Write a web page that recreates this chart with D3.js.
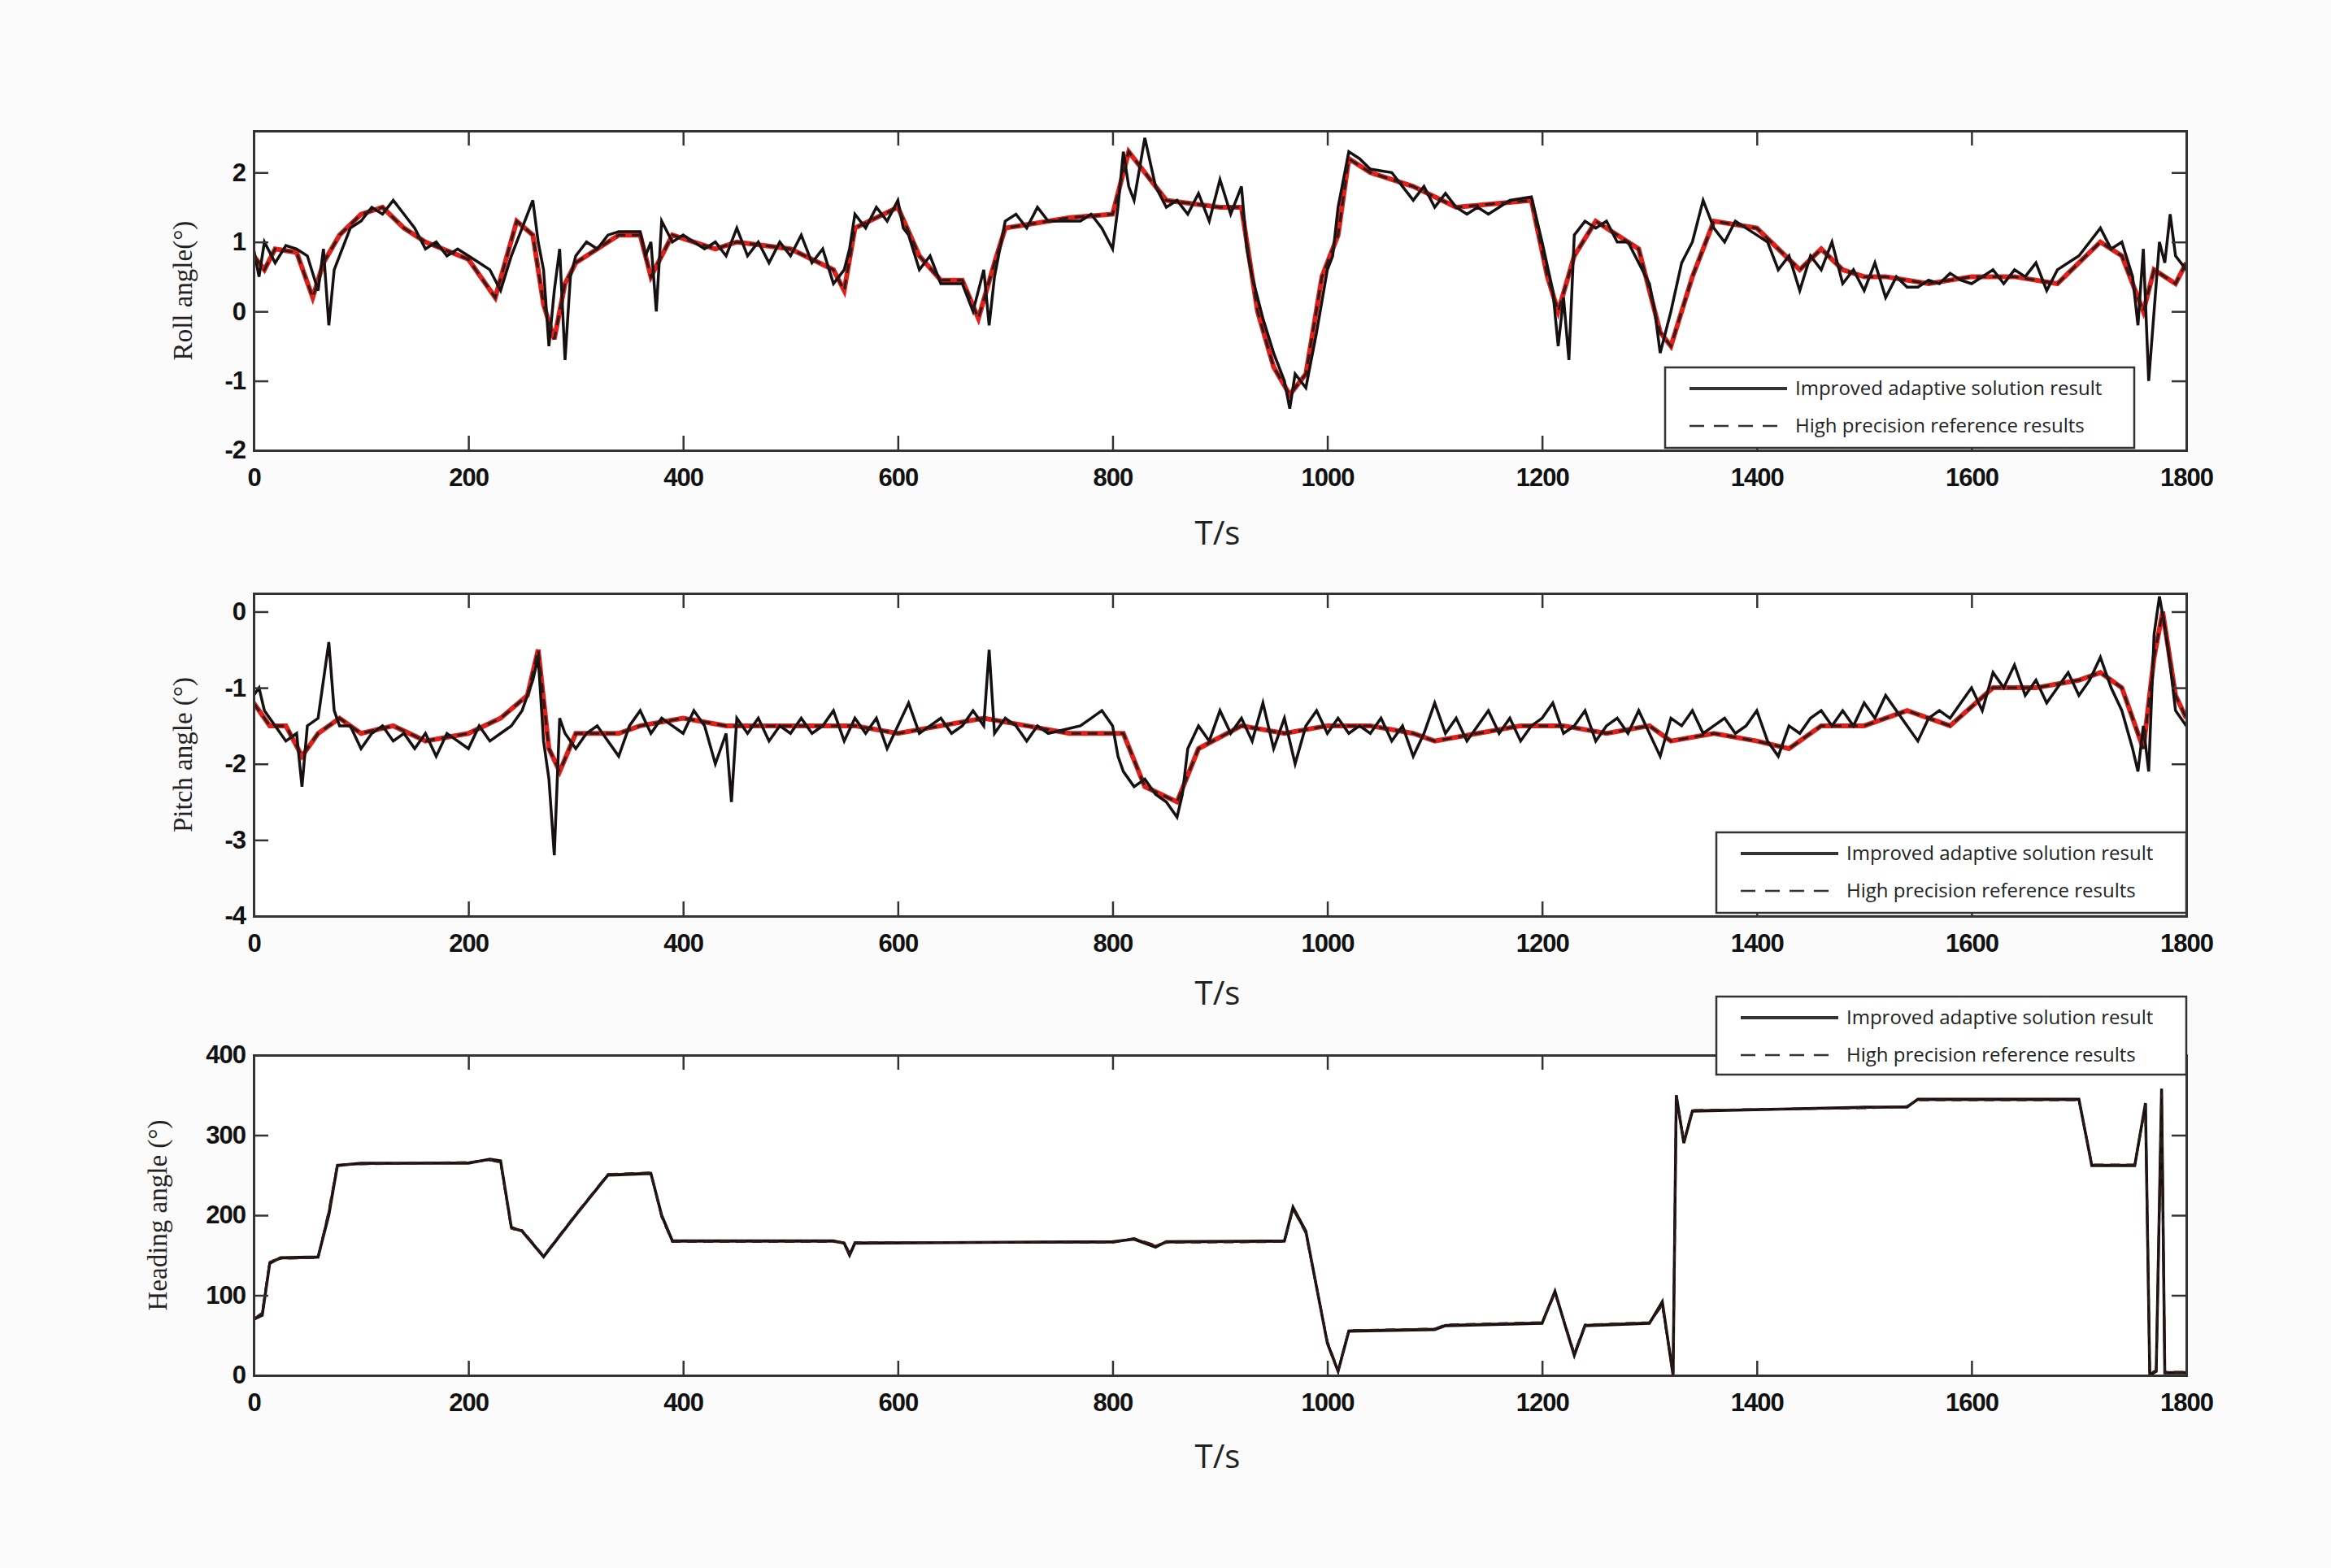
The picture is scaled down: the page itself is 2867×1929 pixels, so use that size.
<!DOCTYPE html>
<html>
<head>
<meta charset="utf-8">
<script src="https://cdn.jsdelivr.net/npm/d3@7"></script>
<style>
  body { margin: 0; background: #fbfbfb; }
  .tick text { font-family: "Liberation Sans Narrow", "Liberation Sans", sans-serif; font-weight: bold; font-size: 31px; fill: #111; letter-spacing: -1px; }
  .ylab { font-family: "Liberation Serif", serif; font-size: 33px; fill: #222; }
  .xlab { font-family: "Open Sans", "DejaVu Sans", sans-serif; font-size: 40px; fill: #222; }
  .leg { font-family: "Liberation Sans Narrow", "Open Sans", sans-serif; font-size: 24px; fill: #222; }
</style>
</head>
<body>
<svg id="chart" width="2867" height="1929"></svg>
<script>
// ---- data ----
var xTicks = [0, 200, 400, 600, 800, 1000, 1200, 1400, 1600, 1800];
var rollTicks = [-2, -1, 0, 1, 2];
var pitchTicks = [-4, -3, -2, -1, 0];
var headingTicks = [0, 100, 200, 300, 400];
var legendLabels = ["Improved adaptive solution result", "High precision reference results"];

var rollSolved = [[0,0.9],[5,0.5],[10,1.0],[20,0.7],[30,0.95],[40,0.9],[50,0.8],[60,0.3],[65,0.9],[70,-0.2],[75,0.6],[85,1.0],[90,1.2],[100,1.3],[110,1.5],[120,1.4],[130,1.6],[140,1.4],[150,1.2],[160,0.9],[170,1.0],[180,0.8],[190,0.9],[200,0.8],[210,0.7],[220,0.6],[230,0.3],[240,0.8],[250,1.2],[255,1.4],[260,1.6],[265,1.0],[270,0.6],[275,-0.5],[280,0.3],[285,0.9],[290,-0.7],[295,0.5],[300,0.8],[310,1.0],[320,0.9],[330,1.1],[340,1.15],[360,1.15],[365,0.8],[370,1.0],[375,0.0],[380,1.3],[390,1.0],[400,1.1],[410,1.0],[420,0.9],[430,1.0],[440,0.8],[450,1.2],[460,0.8],[470,1.0],[480,0.7],[490,1.0],[500,0.8],[510,1.1],[520,0.7],[530,0.9],[540,0.4],[550,0.6],[555,0.9],[560,1.4],[570,1.2],[580,1.5],[590,1.3],[600,1.6],[605,1.2],[610,1.1],[620,0.6],[630,0.8],[640,0.4],[660,0.4],[670,0.0],[680,0.6],[685,-0.2],[690,0.5],[700,1.3],[710,1.4],[720,1.2],[730,1.5],[740,1.3],[750,1.3],[770,1.3],[780,1.4],[790,1.2],[800,0.9],[805,1.5],[810,2.3],[815,1.8],[820,1.6],[830,2.5],[840,1.8],[850,1.5],[860,1.6],[870,1.4],[880,1.7],[890,1.3],[900,1.9],[910,1.4],[920,1.8],[925,0.9],[930,0.5],[940,-0.1],[950,-0.6],[960,-1.0],[965,-1.4],[970,-0.9],[980,-1.1],[990,-0.3],[1000,0.6],[1005,0.8],[1010,1.5],[1020,2.3],[1030,2.2],[1040,2.05],[1060,2.0],[1070,1.8],[1080,1.6],[1090,1.8],[1100,1.5],[1110,1.7],[1120,1.5],[1130,1.4],[1140,1.5],[1150,1.4],[1160,1.5],[1170,1.6],[1190,1.65],[1200,1.0],[1210,0.3],[1215,-0.5],[1220,0.2],[1225,-0.7],[1230,1.1],[1240,1.3],[1250,1.2],[1260,1.3],[1270,1.0],[1280,1.0],[1290,0.7],[1300,0.4],[1305,0.0],[1310,-0.6],[1320,0.0],[1330,0.7],[1340,1.0],[1350,1.6],[1360,1.2],[1370,1.0],[1380,1.3],[1390,1.2],[1400,1.1],[1410,1.0],[1420,0.6],[1430,0.8],[1440,0.3],[1450,0.8],[1460,0.6],[1470,1.0],[1480,0.4],[1490,0.6],[1500,0.3],[1510,0.7],[1520,0.2],[1530,0.5],[1540,0.35],[1550,0.35],[1560,0.45],[1570,0.4],[1580,0.55],[1590,0.45],[1600,0.4],[1610,0.5],[1620,0.6],[1630,0.4],[1640,0.6],[1650,0.5],[1660,0.7],[1670,0.3],[1680,0.6],[1690,0.7],[1700,0.8],[1710,1.0],[1720,1.2],[1730,0.9],[1740,1.0],[1750,0.5],[1755,-0.2],[1760,0.9],[1765,-1.0],[1770,0.0],[1775,1.0],[1780,0.7],[1785,1.4],[1790,0.8],[1800,0.6]];
var rollRef = [[0,0.8],[10,0.6],[20,0.9],[40,0.85],[55,0.2],[65,0.7],[80,1.1],[100,1.4],[120,1.5],[140,1.2],[160,1.0],[200,0.75],[225,0.2],[245,1.3],[260,1.1],[270,0.1],[280,-0.4],[290,0.4],[300,0.7],[340,1.1],[360,1.1],[370,0.5],[390,1.1],[430,0.9],[450,1.0],[500,0.9],[540,0.6],[550,0.3],[560,1.2],[600,1.5],[620,0.8],[640,0.45],[660,0.45],[675,-0.1],[690,0.7],[700,1.2],[760,1.35],[800,1.4],[815,2.3],[830,2.0],[850,1.6],[900,1.5],[920,1.5],[935,0.0],[950,-0.8],[965,-1.2],[980,-0.9],[995,0.5],[1010,1.1],[1020,2.2],[1040,2.0],[1080,1.8],[1120,1.5],[1190,1.6],[1205,0.5],[1215,0.0],[1230,0.8],[1250,1.3],[1290,0.9],[1310,-0.3],[1320,-0.5],[1340,0.5],[1360,1.3],[1400,1.2],[1420,0.9],[1440,0.6],[1460,0.9],[1480,0.6],[1500,0.5],[1520,0.5],[1560,0.4],[1600,0.5],[1640,0.5],[1680,0.4],[1720,1.0],[1740,0.8],[1760,0.0],[1770,0.6],[1790,0.4],[1800,0.7]];

var pitchSolved = [[0,-1.1],[5,-1.0],[10,-1.3],[20,-1.5],[30,-1.7],[40,-1.6],[45,-2.3],[50,-1.5],[60,-1.4],[70,-0.4],[75,-1.3],[80,-1.5],[90,-1.5],[100,-1.8],[110,-1.6],[120,-1.5],[130,-1.7],[140,-1.6],[150,-1.8],[160,-1.6],[170,-1.9],[180,-1.6],[190,-1.7],[200,-1.8],[210,-1.5],[220,-1.7],[230,-1.6],[240,-1.5],[250,-1.3],[260,-0.9],[265,-0.6],[270,-1.7],[275,-2.2],[280,-3.2],[285,-1.4],[290,-1.6],[300,-1.8],[310,-1.6],[320,-1.5],[330,-1.7],[340,-1.9],[350,-1.5],[360,-1.3],[370,-1.6],[380,-1.4],[390,-1.5],[400,-1.6],[410,-1.3],[420,-1.5],[430,-2.0],[440,-1.6],[445,-2.5],[450,-1.4],[460,-1.6],[470,-1.4],[480,-1.7],[490,-1.5],[500,-1.6],[510,-1.4],[520,-1.6],[530,-1.5],[540,-1.3],[550,-1.7],[560,-1.4],[570,-1.6],[580,-1.4],[590,-1.8],[600,-1.5],[610,-1.2],[620,-1.6],[630,-1.5],[640,-1.4],[650,-1.6],[660,-1.5],[670,-1.3],[680,-1.5],[685,-0.5],[690,-1.6],[700,-1.4],[710,-1.5],[720,-1.7],[730,-1.5],[740,-1.6],[770,-1.5],[780,-1.4],[790,-1.3],[800,-1.5],[805,-1.9],[810,-2.1],[820,-2.3],[830,-2.2],[840,-2.4],[850,-2.5],[860,-2.7],[865,-2.4],[870,-1.8],[880,-1.5],[890,-1.7],[900,-1.3],[910,-1.6],[920,-1.4],[930,-1.7],[940,-1.2],[950,-1.8],[960,-1.4],[970,-2.0],[980,-1.5],[990,-1.3],[1000,-1.6],[1010,-1.4],[1020,-1.6],[1030,-1.5],[1040,-1.6],[1050,-1.4],[1060,-1.7],[1070,-1.5],[1080,-1.9],[1090,-1.6],[1100,-1.2],[1110,-1.6],[1120,-1.4],[1130,-1.7],[1140,-1.5],[1150,-1.3],[1160,-1.6],[1170,-1.4],[1180,-1.7],[1190,-1.5],[1200,-1.4],[1210,-1.2],[1220,-1.6],[1230,-1.5],[1240,-1.3],[1250,-1.7],[1260,-1.5],[1270,-1.4],[1280,-1.6],[1290,-1.3],[1300,-1.6],[1310,-1.9],[1320,-1.4],[1330,-1.5],[1340,-1.3],[1350,-1.6],[1360,-1.5],[1370,-1.4],[1380,-1.6],[1390,-1.5],[1400,-1.3],[1410,-1.7],[1420,-1.9],[1430,-1.5],[1440,-1.6],[1450,-1.4],[1460,-1.3],[1470,-1.5],[1480,-1.3],[1490,-1.5],[1500,-1.2],[1510,-1.4],[1520,-1.1],[1530,-1.3],[1540,-1.5],[1550,-1.7],[1560,-1.4],[1570,-1.3],[1580,-1.4],[1590,-1.2],[1600,-1.0],[1610,-1.3],[1620,-0.8],[1630,-1.0],[1640,-0.7],[1650,-1.1],[1660,-0.9],[1670,-1.2],[1680,-1.0],[1690,-0.8],[1700,-1.1],[1710,-0.9],[1720,-0.6],[1730,-1.0],[1740,-1.3],[1750,-1.8],[1755,-2.1],[1760,-1.5],[1765,-2.1],[1770,-0.3],[1775,0.2],[1780,-0.2],[1785,-0.7],[1790,-1.3],[1800,-1.5]];
var pitchRef = [[0,-1.2],[15,-1.5],[30,-1.5],[45,-1.9],[60,-1.6],[80,-1.4],[100,-1.6],[130,-1.5],[160,-1.7],[200,-1.6],[230,-1.4],[255,-1.1],[265,-0.5],[275,-1.8],[285,-2.1],[300,-1.6],[340,-1.6],[360,-1.5],[400,-1.4],[440,-1.5],[480,-1.5],[520,-1.5],[560,-1.5],[600,-1.6],[640,-1.5],[680,-1.4],[720,-1.5],[760,-1.6],[790,-1.6],[810,-1.6],[830,-2.3],[860,-2.5],[880,-1.8],[920,-1.5],[960,-1.6],[1000,-1.5],[1040,-1.5],[1080,-1.6],[1100,-1.7],[1140,-1.6],[1180,-1.5],[1220,-1.5],[1260,-1.6],[1300,-1.5],[1320,-1.7],[1360,-1.6],[1400,-1.7],[1430,-1.8],[1460,-1.5],[1500,-1.5],[1540,-1.3],[1580,-1.5],[1620,-1.0],[1660,-1.0],[1700,-0.9],[1720,-0.8],[1740,-1.0],[1760,-1.8],[1770,-0.6],[1778,0.0],[1790,-1.1],[1800,-1.4]];

var headingSolved = [[0,70],[8,75],[15,140],[25,147],[60,148],[70,200],[78,262],[100,265],[200,265],[220,270],[230,268],[240,185],[250,180],[270,148],[300,200],[330,250],[370,252],[380,200],[390,168],[540,168],[550,165],[555,150],[560,165],[800,167],[820,170],[840,160],[850,167],[960,168],[968,210],[980,180],[1000,40],[1010,5],[1020,55],[1100,57],[1110,62],[1200,65],[1212,105],[1222,60],[1230,25],[1240,62],[1300,65],[1312,92],[1322,0],[1325,350],[1332,290],[1340,330],[1500,335],[1540,335],[1550,345],[1700,345],[1712,262],[1752,262],[1762,340],[1766,0],[1772,5],[1777,358],[1780,3],[1800,3]];
var headingRef = [[0,70],[8,78],[15,142],[25,146],[60,147],[70,205],[78,263],[100,264],[200,266],[220,269],[230,266],[240,183],[250,181],[270,149],[300,201],[330,251],[370,253],[380,198],[390,167],[540,167],[550,166],[555,152],[560,166],[800,166],[820,171],[840,162],[850,166],[960,167],[968,208],[980,178],[1000,42],[1010,6],[1020,56],[1100,58],[1110,63],[1200,66],[1212,103],[1222,61],[1230,27],[1240,63],[1300,66],[1312,88],[1322,2],[1325,348],[1332,292],[1340,331],[1500,334],[1540,336],[1550,344],[1700,344],[1712,263],[1752,263],[1762,338],[1766,2],[1772,6],[1777,352],[1780,4],[1800,4]];

// ---- layout ----
var svg = d3.select("#chart");
var left = 312, right = 2689;
var x = d3.scaleLinear().domain([0, 1800]).range([left, right]);
var fmt = function(d) { return String(d); };

var panels = [
  { top: 161, bottom: 554, domain: [-2, 2.6], ticks: rollTicks, solved: rollSolved, ref: rollRef,
    label: "Roll angle(°)", labelX: 236, tLabelY: 670, legend: [2048, 452, 2625, 551], red: true },
  { top: 730, bottom: 1127, domain: [-4, 0.24], ticks: pitchTicks, solved: pitchSolved, ref: pitchRef,
    label: "Pitch angle (°)", labelX: 236, tLabelY: 1236, legend: [2111, 1024, 2689, 1123], red: true },
  { top: 1298, bottom: 1692, domain: [0, 400], ticks: headingTicks, solved: headingSolved, ref: headingRef,
    label: "Heading angle (°)", labelX: 205, tLabelY: 1806, legend: [2111, 1226, 2689, 1322], red: false }
];

panels.forEach(function(p) {
  var y = d3.scaleLinear().domain(p.domain).range([p.bottom, p.top]);
  var g = svg.append("g");
  var clipId = "clip" + p.top;
  svg.append("clipPath").attr("id", clipId).append("rect")
    .attr("x", left).attr("y", p.top).attr("width", right - left).attr("height", p.bottom - p.top);

  g.append("rect").attr("x", left).attr("y", p.top)
    .attr("width", right - left).attr("height", p.bottom - p.top).attr("fill", "#fff");

  var line = d3.line().x(function(d) { return x(d[0]); }).y(function(d) { return y(d[1]); });
  var plot = g.append("g").attr("clip-path", "url(#" + clipId + ")");

  plot.append("path").datum(p.ref).attr("d", line).attr("fill", "none")
    .attr("stroke", p.red ? "#e0201a" : "#8a2a20").attr("stroke-width", p.red ? 6 : 2.5);
  plot.append("path").datum(p.solved).attr("d", line).attr("fill", "none")
    .attr("stroke", "#161010").attr("stroke-width", 3.5);
  plot.append("path").datum(p.ref).attr("d", line).attr("fill", "none")
    .attr("stroke", "#2a1a18").attr("stroke-width", 3).attr("stroke-dasharray", "12,8");

  // axes with inward ticks on all four sides
  var tl = 18;
  g.append("g").attr("transform", "translate(0," + p.bottom + ")")
    .call(d3.axisBottom(x).tickValues(xTicks).tickSize(-tl).tickPadding(22).tickFormat(fmt));
  g.append("g").attr("transform", "translate(0," + p.top + ")")
    .call(d3.axisTop(x).tickValues(xTicks).tickSize(-tl).tickFormat(""));
  g.append("g").attr("transform", "translate(" + left + ",0)")
    .call(d3.axisLeft(y).tickValues(p.ticks).tickSize(-tl).tickPadding(10).tickFormat(fmt));
  g.append("g").attr("transform", "translate(" + right + ",0)")
    .call(d3.axisRight(y).tickValues(p.ticks).tickSize(-tl).tickFormat(""));
  g.selectAll(".domain").attr("stroke", "#333").attr("stroke-width", 3);
  g.selectAll(".tick line").attr("stroke", "#333").attr("stroke-width", 2.5);

  g.append("text").attr("class", "ylab").attr("text-anchor", "middle")
    .attr("transform", "translate(" + p.labelX + "," + ((p.top + p.bottom) / 2) + ") rotate(-90)")
    .text(p.label);
  g.append("text").attr("class", "xlab").attr("text-anchor", "middle")
    .attr("x", (left + right) / 2 - 3).attr("y", p.tLabelY).text("T/s");

  // legend
  var L = p.legend;
  var lg = g.append("g");
  lg.append("rect").attr("x", L[0]).attr("y", L[1]).attr("width", L[2] - L[0]).attr("height", L[3] - L[1])
    .attr("fill", "#fff").attr("stroke", "#333").attr("stroke-width", 2.5);
  legendLabels.forEach(function(txt, i) {
    var ly = L[1] + 26 + i * 46;
    lg.append("line").attr("x1", L[0] + 30).attr("x2", L[0] + 150).attr("y1", ly).attr("y2", ly)
      .attr("stroke", "#333").attr("stroke-width", i === 0 ? 4 : 2.5)
      .attr("stroke-dasharray", i === 0 ? null : "18,12");
    lg.append("text").attr("class", "leg").attr("x", L[0] + 160).attr("y", ly + 8).text(txt);
  });
});
</script>
</body>
</html>
